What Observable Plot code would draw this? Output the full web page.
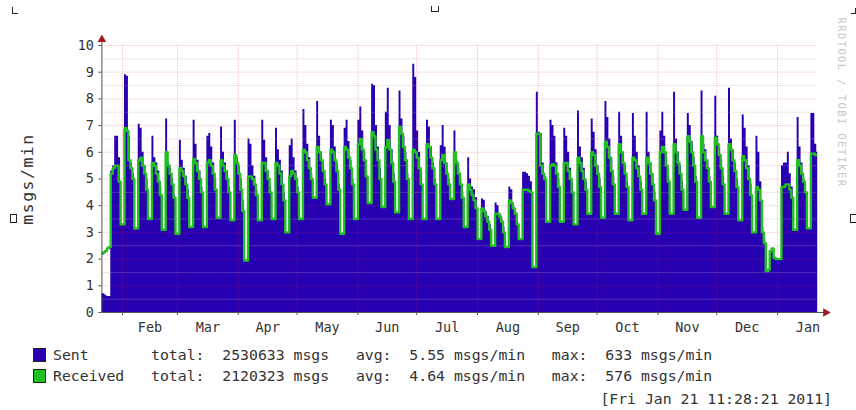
<!DOCTYPE html>
<html><head><meta charset="utf-8">
<script src="https://cdn.jsdelivr.net/npm/d3@7"></script>
<script src="https://cdn.jsdelivr.net/npm/@observablehq/plot@0.6"></script>
<style>
html,body{margin:0;padding:0;background:#fff;}
#wrap{position:relative;width:856px;height:410px;overflow:hidden;font-family:"DejaVu Sans Mono",monospace;color:#333;}
#chart{position:absolute;left:0;top:0;}
.row{position:absolute;white-space:pre;font-size:14.8px;line-height:15px;}
.sw{position:absolute;width:11px;height:12px;border:1px solid #222;}
.mk{position:absolute;border:0 solid #222;}
</style>
</head><body>
<div id="wrap"><div id="chart"></div></div>
<script>
// ---- data ----
const yTicks = [0,1,2,3,4,5,6,7,8,9,10];
const yMinor = [0.5,1.5,2.5,3.5,4.5,5.5,6.5,7.5,8.5,9.5];
const monthNames = ["Feb","Mar","Apr","May","Jun","Jul","Aug","Sep","Oct","Nov","Dec","Jan"];
const monthStarts = ["2010-02-01","2010-03-01","2010-04-01","2010-05-01","2010-06-01","2010-07-01","2010-08-01","2010-09-01","2010-10-01","2010-11-01","2010-12-01","2011-01-01","2011-02-01"];
const yLabel = "msgs/min";
const watermark = "RRDTOOL / TOBI OETIKER";
const seriesNames = ["Sent","Received"];
const seriesTotals = ["2530633","2120323"];
const seriesAvgs = ["5.55","4.64"];
const seriesMaxs = ["633","576"];
const stamp = "[Fri Jan 21 11:28:21 2011]";

// daily values, first 5 days then weeks (5 working days + 2 weekend days)
const preSent = [0.7,0.7,0.65,0.6,0.6];
const preRecv = [2.2,2.25,2.3,2.4,2.45];
const sentWeeks = [
[5.3,5.5,6.6,6.6,5.8,3.3,3.3],
[8.9,8.85,6.6,5.6,5.2,3.1,3.1],
[7.05,6.9,6.0,5.5,5.0,3.5,3.5],
[6.6,5.8,5.6,5.3,4.7,3.05,3.05],
[7.25,5.6,5.4,5.0,4.4,2.95,2.95],
[6.45,5.7,5.4,5.1,4.6,3.2,3.2],
[7.2,6.3,5.7,5.3,4.7,3.2,3.2],
[6.6,6.7,6.2,5.6,5.0,3.55,3.55],
[6.95,6.0,5.6,5.3,4.7,3.45,3.45],
[7.2,5.8,5.5,5.0,4.2,1.95,1.95],
[6.5,6.3,5.5,5.1,4.6,3.45,3.45],
[7.2,6.45,5.8,5.3,4.7,3.5,3.5],
[6.9,6.1,5.7,5.3,4.5,3.0,3.0],
[6.25,6.5,5.8,5.3,4.7,3.5,3.5],
[7.6,7.0,6.3,5.8,5.2,4.3,4.3],
[7.9,6.6,6.0,5.6,5.0,4.05,4.05],
[7.2,7.0,6.2,5.6,4.8,2.95,2.95],
[6.9,7.2,6.4,5.7,5.0,3.5,3.5],
[7.2,7.7,6.8,6.0,5.3,4.1,4.1],
[8.55,8.5,7.0,6.2,5.4,3.95,3.95],
[7.5,8.4,7.0,6.1,5.2,3.75,3.75],
[8.3,7.25,6.6,6.0,5.2,3.5,3.5],
[9.3,8.8,6.8,6.0,5.3,3.5,3.5],
[7.2,6.95,6.2,5.6,5.0,3.5,3.5],
[6.25,7.0,6.2,5.6,5.0,4.25,4.25],
[6.8,5.7,5.4,5.0,4.5,3.2,3.2],
[5.8,5.0,4.7,4.6,4.3,2.75,2.75],
[4.25,4.2,3.75,3.6,3.3,2.5,2.5],
[4.1,4.0,3.7,3.5,3.2,2.45,2.45],
[4.7,4.6,4.0,3.8,3.4,2.75,2.75],
[5.25,5.25,5.2,5.1,4.9,1.7,1.7],
[8.25,6.75,6.7,5.6,5.1,3.4,3.4],
[7.2,7.0,6.6,5.6,5.0,3.4,3.4],
[6.9,6.6,6.0,5.4,4.9,3.3,3.3],
[7.55,6.2,5.8,5.4,4.9,3.7,3.7],
[7.25,6.75,6.1,5.5,5.0,3.55,3.55],
[7.9,7.3,6.5,5.8,5.1,3.7,3.7],
[7.5,6.6,6.0,5.5,4.9,3.45,3.45],
[7.45,6.6,6.0,5.5,4.9,3.7,3.7],
[7.5,6.0,5.6,5.2,4.5,2.95,2.95],
[6.8,7.5,6.6,5.8,5.1,3.7,3.7],
[8.25,6.5,6.0,5.5,4.9,3.85,3.85],
[7.45,7.0,6.4,5.8,5.1,3.55,3.55],
[8.3,6.3,6.1,5.7,5.1,3.95,3.95],
[8.1,6.6,6.2,5.7,5.1,3.7,3.7],
[8.4,6.5,6.1,5.6,5.0,3.45,3.45],
[7.4,6.9,6.2,5.5,4.8,3.0,3.0],
[6.6,6.0,4.9,3.2,2.8,1.5,1.5],
[2.2,2.3,2.0,2.0,2.0,2.0,5.5],
[5.6,5.6,6.0,5.2,4.7,3.1,3.1],
[7.3,6.2,5.6,5.0,4.5,3.15,3.15],
[7.45,7.45,6.3,6.0]
];
const recvWeeks = [
[5.2,5.4,5.5,5.5,4.9,3.3,3.3],
[6.9,6.8,5.7,5.4,5.0,3.15,3.15],
[5.7,5.8,5.5,5.2,4.6,3.5,3.5],
[5.6,5.5,5.2,4.9,4.4,3.1,3.1],
[6.0,5.5,5.2,4.8,4.3,2.95,2.95],
[5.4,5.3,5.1,4.8,4.3,3.2,3.2],
[5.75,5.6,5.3,5.0,4.5,3.2,3.2],
[5.6,5.7,5.5,5.2,4.6,3.55,3.55],
[5.7,5.5,5.3,5.0,4.5,3.45,3.45],
[5.9,5.6,5.2,4.6,3.8,1.95,1.95],
[5.1,5.1,5.0,4.8,4.4,3.45,3.45],
[5.6,5.6,5.3,5.0,4.5,3.5,3.5],
[5.6,5.5,5.2,4.8,4.2,3.0,3.0],
[5.1,5.3,5.2,5.0,4.5,3.5,3.5],
[6.1,6.0,5.7,5.4,5.0,4.3,4.3],
[6.2,6.0,5.7,5.3,4.8,4.05,4.05],
[6.1,6.0,5.7,5.3,4.6,2.95,2.95],
[6.2,6.1,5.8,5.4,4.8,3.5,3.5],
[6.3,6.5,6.1,5.7,5.1,4.1,4.1],
[6.75,6.6,6.1,5.7,5.0,3.95,3.95],
[6.2,6.45,6.1,5.6,4.9,3.75,3.75],
[6.95,6.7,6.2,5.7,5.0,3.5,3.5],
[6.1,6.0,5.8,5.4,4.8,3.5,3.5],
[6.3,6.2,5.8,5.4,4.8,3.5,3.5],
[5.7,5.9,5.6,5.2,4.8,4.25,4.25],
[6.0,5.6,5.2,4.8,4.3,3.2,3.2],
[4.8,4.6,4.4,4.2,3.9,2.75,2.75],
[3.9,3.8,3.6,3.4,3.1,2.5,2.5],
[3.7,3.7,3.6,3.4,3.0,2.45,2.45],
[4.2,4.1,3.9,3.7,3.3,2.75,2.75],
[4.6,4.6,4.6,4.55,4.5,1.7,1.7],
[6.7,6.7,5.5,5.2,5.0,3.4,3.4],
[5.5,5.55,5.5,5.2,4.7,3.4,3.4],
[5.6,5.6,5.3,5.0,4.5,3.3,3.3],
[5.8,5.6,5.3,5.0,4.6,3.7,3.7],
[6.0,5.9,5.5,5.2,4.7,3.55,3.55],
[6.4,6.2,5.8,5.3,4.8,3.7,3.7],
[6.3,6.0,5.6,5.2,4.7,3.45,3.45],
[5.8,5.7,5.4,5.1,4.6,3.7,3.7],
[5.8,5.6,5.2,4.8,4.2,2.95,2.95],
[6.0,6.2,6.0,5.5,4.9,3.7,3.7],
[6.3,6.0,5.6,5.2,4.6,3.85,3.85],
[6.6,6.4,6.0,5.5,4.9,3.55,3.55],
[6.6,6.0,5.7,5.4,4.9,3.95,3.95],
[6.55,6.3,5.9,5.4,4.8,3.7,3.7],
[6.3,6.1,5.7,5.3,4.7,3.45,3.45],
[5.85,5.7,5.4,5.0,4.4,3.0,3.0],
[4.7,4.6,4.2,3.0,2.6,1.55,1.6],
[2.3,2.4,2.05,2.0,2.0,2.0,4.7],
[4.7,4.8,4.8,4.6,4.3,3.1,3.1],
[5.7,5.5,5.2,4.9,4.5,3.15,3.15],
[5.95,5.95,5.9,5.9]
];

// ---- build table ----
const DAY = 864e5;
const t0 = Date.UTC(2010,0,21);
const sent = [...preSent, ...sentWeeks.flat()];
const recv = [...preRecv, ...recvWeeks.flat()];
const rows = sent.map((s,i)=>({date:new Date(t0+i*DAY), sent:s, recv:recv[i]}));
rows.push({date:new Date(t0+sent.length*DAY), sent:sent[sent.length-1], recv:recv[recv.length-1]});
const xDomain = [new Date(Date.UTC(2010,0,21,11,28,21)), new Date(Date.UTC(2011,0,21,11,28,21))];
const mStart = monthStarts.map(s=>new Date(s+"T00:00:00Z"));
const gridMonths = mStart.slice(0,-1);
const midMonths = mStart.slice(0,-1).map((d,i)=>new Date((+d + +mStart[i+1])/2));
const font = "DejaVu Sans Mono";
const red = "#ff2020";
const blue = "#2700b2", green = "#20c020";

const chart = Plot.plot({
  width:856, height:340,
  marginTop:45, marginLeft:101.4, marginRight:38.8, marginBottom:28,
  x:{type:"utc", domain:xDomain},
  y:{domain:[0,10]},
  style:{fontFamily:font, fontSize:"13.5px", color:"#333", background:"transparent", overflow:"visible"},
  marks:[
    Plot.areaY(rows,{x:"date", y:"sent", curve:"step-after", fill:blue, clip:true}),
    Plot.ruleY(yMinor,{stroke:"#e0a0a0", strokeOpacity:0.55, strokeDasharray:"1,1"}),
    Plot.ruleY(yTicks.slice(1),{stroke:red, strokeOpacity:0.3, strokeDasharray:"1,1"}),
    Plot.ruleX(gridMonths,{stroke:red, strokeOpacity:0.3, strokeDasharray:"1,1"}),
    Plot.lineY(rows,{x:"date", y:"recv", curve:"step-after", stroke:green, strokeWidth:2.4, clip:true}),
    Plot.ruleY([0],{stroke:"#555", insetRight:-8}),
    Plot.ruleX([xDomain[0]],{stroke:"#555", insetTop:-8}),
    Plot.axisY({ticks:yTicks, tickSize:3, tickPadding:5, stroke:"#555", fill:"#333", fontSize:13.5, fontFamily:font, label:null}),
    Plot.axisX({ticks:gridMonths, tickSize:3, stroke:"#555", tickFormat:()=>"", label:null}),
    Plot.axisX({ticks:midMonths, tickSize:0, tickPadding:10, fill:"#333", fontSize:13.5, fontFamily:font,
      tickFormat:d=>monthNames[midMonths.findIndex(m=>+m===+d)], label:null}),
    Plot.dot([0],{frameAnchor:"top-left", symbol:"triangle", r:3.2, fill:"#a01818", stroke:null, dy:-6}),
    Plot.dot([0],{frameAnchor:"bottom-right", symbol:"triangle", r:3.2, fill:"#a01818", stroke:null, rotate:90, dx:8}),
    Plot.text([yLabel],{frameAnchor:"left", rotate:-90, textAnchor:"middle", dx:-74, fontSize:16.5, fontFamily:font, fill:"#333"}),
    Plot.text([watermark],{frameAnchor:"top-right", rotate:90, textAnchor:"start", dx:28, dy:-28, fontSize:10.5, fontFamily:font, fill:"#c8c8c8"})
  ]
});
const wrap = document.getElementById("wrap");
document.getElementById("chart").appendChild(chart);
d3.select(chart).selectAll("text").each(function(){
  if (this.textContent === yLabel) this.style.letterSpacing = "1.5px";
  if (this.textContent === watermark) this.style.letterSpacing = "1.4px";
});

// ---- legend below the SVG ----
const colors = [blue, green];
const pad = (s,n)=>s+" ".repeat(Math.max(0,n-s.length));
seriesNames.forEach((name,i)=>{
  const top = 348 + i*21;
  const sw = document.createElement("div");
  sw.className="sw"; sw.style.left="33px"; sw.style.top=top+"px"; sw.style.background=colors[i];
  wrap.appendChild(sw);
  const r = document.createElement("div");
  r.className="row"; r.style.left="53px"; r.style.top=(top-1)+"px";
  r.textContent = pad(name,11)+"total:  "+seriesTotals[i]+" msgs   avg:  "+seriesAvgs[i]+" msgs/min   max:  "+seriesMaxs[i]+" msgs/min";
  wrap.appendChild(r);
});
const st = document.createElement("div");
st.className="row"; st.style.right="24px"; st.style.top="391px"; st.textContent=stamp;
wrap.appendChild(st);
// small corner marks of the source image
[[12,7,5,6,"0 0 1.5 1.5"],[431,6,6,5,"0 1.5 1.5 1.5"],[851,8,4,5,"0 1.5 1.5 0"],[10,214,5,7,"1.5 1.5 1.5 1.5"],[850,214,5,7,"1.5 1.5 1.5 1.5"]].forEach(([l,t,w,h,b])=>{
  const m=document.createElement("div"); m.className="mk";
  m.style.left=l+"px"; m.style.top=t+"px"; m.style.width=w+"px"; m.style.height=h+"px";
  m.style.borderWidth=b.split(" ").map(v=>v+"px").join(" ");
  wrap.appendChild(m);
});
</script>
</body></html>
